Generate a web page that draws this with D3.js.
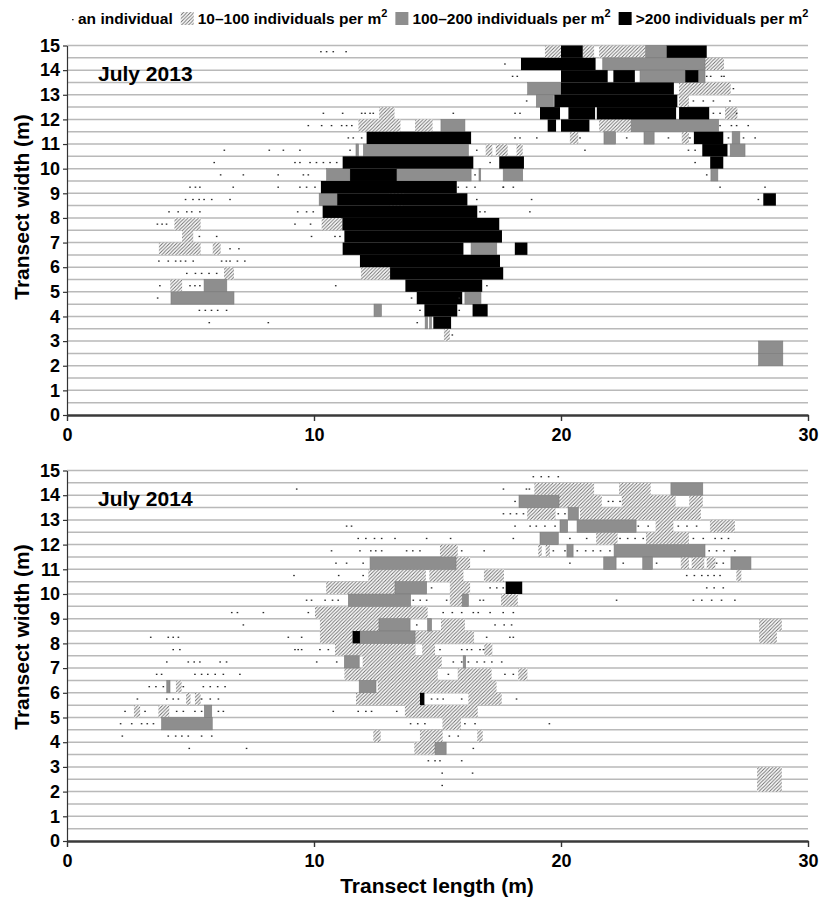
<!DOCTYPE html>
<html>
<head>
<meta charset="utf-8">
<script src="https://cdn.jsdelivr.net/npm/d3@7"></script>
<style>
body { margin: 0; background: #fff; }
text { font-family: "Liberation Sans", Arial, sans-serif; font-weight: bold; }
</style>
</head>
<body>
<svg id="chart" width="819" height="905"></svg>
<script>
// cells are [row bottom (m), x start (m), x end (m)], each row is 0.5 m tall
var hatched2013 = [
    [14.5, 19.35, 20.0], [14.5, 20.88, 21.34], [14.5, 21.54, 23.43],
    [14, 25.83, 26.6], [13, 24.78, 26.87], [12.5, 24.78, 25.18],
    [12, 12.64, 13.26], [12, 26.64, 27.14],
    [11.5, 11.8, 13.5], [11.5, 14.09, 14.8], [11.5, 21.54, 22.84],
    [11, 20.36, 20.7], [11, 24.89, 25.18],
    [10.5, 16.95, 17.22], [10.5, 17.36, 17.84], [10.5, 18.2, 18.45],
    [8.5, 13.05, 13.64],
    [7.5, 4.35, 5.41], [7.5, 10.31, 11.15], [7, 4.66, 5.11],
    [6.5, 3.72, 5.41], [6.5, 5.9, 6.22],
    [5.5, 6.36, 6.76], [5.5, 11.9, 13.08], [5, 4.18, 4.66],
    [3, 15.26, 15.5]
];
var gray2013 = [
    [14.5, 23.43, 24.28], [14, 21.69, 25.83],
    [13.5, 23.2, 25.03], [13.5, 25.56, 25.83],
    [13, 18.65, 20.0], [12.5, 19.0, 19.69],
    [11.5, 15.14, 16.11], [11.5, 22.84, 26.38],
    [11, 21.74, 22.21], [11, 23.36, 23.77], [11, 26.93, 27.24],
    [10.5, 11.7, 11.8], [10.5, 12.0, 16.25], [10.5, 26.85, 27.45],
    [9.5, 10.51, 11.46], [9.5, 13.35, 16.36], [9.5, 16.68, 16.75], [9.5, 17.66, 18.45], [9.5, 26.07, 26.35],
    [8.5, 10.21, 10.94], [6.5, 16.36, 17.4],
    [5, 5.55, 6.47], [4.5, 4.21, 6.76], [4.5, 16.11, 16.76],
    [4, 12.43, 12.73], [3.5, 14.5, 14.6], [3.5, 14.68, 14.76],
    [2.5, 28.0, 28.98], [2, 28.0, 28.98]
];
var black2013 = [
    [14.5, 20.0, 20.88], [14.5, 24.28, 25.9], [14, 18.38, 21.4],
    [13.5, 20.0, 21.89], [13.5, 22.12, 22.99], [13.5, 25.03, 25.56],
    [13, 20.0, 24.57], [12.5, 19.73, 24.71],
    [12, 19.15, 19.96], [12, 20.3, 21.38], [12, 21.45, 24.66], [12, 24.78, 26.0],
    [11.5, 19.46, 19.8], [11.5, 20.0, 21.15],
    [11, 12.13, 16.36], [11, 25.38, 26.57], [10.5, 25.72, 26.74],
    [10, 11.16, 16.45], [10, 17.5, 18.5], [10, 26.04, 26.57],
    [9.5, 11.46, 13.35], [9, 10.28, 15.78],
    [8.5, 10.94, 16.21], [8.5, 28.19, 28.7],
    [8, 10.35, 16.61], [7.5, 11.15, 17.5], [7, 11.23, 17.61],
    [6.5, 11.16, 16.05], [6.5, 18.13, 18.64],
    [6, 11.86, 17.53], [5.5, 13.08, 17.66], [5, 13.7, 16.81],
    [4.5, 14.16, 16.0], [4, 14.47, 15.8], [4, 16.42, 17.03],
    [3.5, 14.83, 15.55]
];
// single individuals: [x (m), row bottom (m)]
var dots2013 = [
    [10.28, 14.5], [10.51, 14.5], [10.78, 14.5], [11.3, 14.5],
    [17.73, 14],
    [18.04, 13.5], [18.23, 13.5], [25.9, 13.5], [26.06, 13.5], [26.5, 13.5], [26.6, 13.5],
    [26.98, 13],
    [18.61, 12.5], [25.36, 12.5], [25.76, 12.5], [26.17, 12.5], [26.84, 12.5],
    [10.38, 12], [11.16, 12], [11.93, 12], [12.07, 12], [12.27, 12], [12.4, 12], [15.64, 12],
    [18.14, 12], [18.34, 12], [26.17, 12], [26.44, 12], [27.11, 12],
    [9.77, 11.5], [10.31, 11.5], [10.71, 11.5], [11.12, 11.5], [11.32, 11.5], [11.53, 11.5],
    [26.44, 11.5], [26.9, 11.5], [27.11, 11.5], [27.58, 11.5],
    [11.39, 11], [11.59, 11], [11.93, 11], [18.14, 11], [18.34, 11], [19.02, 11],
    [20.77, 11], [22.66, 11], [24.35, 11], [25.22, 11], [26.78, 11], [27.39, 11], [27.86, 11],
    [6.37, 10.5], [8.19, 10.5], [8.76, 10.5], [9.43, 10.5], [11.46, 10.5], [16.59, 10.5],
    [20.97, 10.5], [25.16, 10.5], [25.43, 10.5],
    [5.96, 10], [9.23, 10], [9.43, 10], [9.84, 10], [10.1, 10], [10.38, 10], [10.65, 10],
    [10.92, 10], [17.13, 10], [25.43, 10],
    [6.22, 9.5], [7.14, 9.5], [8.55, 9.5], [9.57, 9.5], [9.77, 9.5], [16.52, 9.5], [25.9, 9.5],
    [4.98, 9], [5.2, 9], [5.38, 9], [6.73, 9], [8.55, 9], [9.43, 9], [9.7, 9], [10.04, 9],
    [15.84, 9], [16.18, 9], [16.52, 9], [17.66, 9], [17.67, 9], [18.07, 9], [26.44, 9], [28.26, 9],
    [4.8, 8.5], [5.1, 8.5], [5.35, 8.5], [5.55, 8.5], [5.86, 8.5], [6.6, 8.5],
    [16.59, 8.5], [18.81, 8.5], [27.99, 8.5],
    [4.13, 8], [4.5, 8], [4.85, 8], [5.05, 8], [5.38, 8], [9.34, 8], [9.7, 8], [9.97, 8],
    [16.72, 8], [16.92, 8], [18.74, 8],
    [3.66, 7.5], [3.85, 7.5], [4.03, 7.5], [9.23, 7.5], [9.86, 7.5],
    [5.36, 7], [6.06, 7], [9.9, 7], [10.85, 7], [11.05, 7],
    [6.6, 6.5], [6.96, 6.5],
    [3.72, 6], [4.1, 6], [4.4, 6], [4.6, 6], [4.8, 6], [5.11, 6], [6.26, 6], [6.45, 6],
    [6.6, 6], [6.9, 6], [7.2, 6],
    [4.85, 5.5], [5.2, 5.5], [5.45, 5.5], [5.75, 5.5], [6.06, 5.5],
    [3.76, 5], [4.98, 5], [5.18, 5], [5.38, 5], [10.88, 5], [17.0, 5],
    [3.67, 4.5], [13.95, 4.5], [15.88, 4.5],
    [5.36, 4], [5.6, 4], [5.85, 4], [6.1, 4], [6.46, 4], [14.29, 4], [15.88, 4],
    [5.76, 3.5], [8.15, 3.5], [14.18, 3.5],
    [15.6, 3]
];

var hatched2014 = [
    [14, 18.92, 21.34], [14, 22.35, 23.63],
    [13.5, 19.92, 21.65], [13.5, 22.46, 24.64], [13.5, 25.19, 25.74],
    [13, 18.63, 19.78], [13, 20.77, 25.66],
    [12.5, 23.83, 24.55], [12.5, 26.03, 27.04],
    [12, 21.42, 22.29], [12, 23.44, 25.18],
    [11.5, 15.1, 15.82], [11.5, 19.08, 19.22], [11.5, 19.38, 19.55],
    [11, 15.75, 16.32], [11, 24.85, 25.18], [11, 25.29, 25.8], [11, 25.9, 26.25],
    [10.5, 12.2, 14.53], [10.5, 14.67, 16.05], [10.5, 16.88, 17.69], [10.5, 27.1, 27.3],
    [10, 10.49, 13.28], [10, 15.5, 16.32],
    [9.5, 15.5, 16.0], [9.5, 17.57, 18.25],
    [9, 10.04, 14.6],
    [8.5, 10.24, 12.63], [8.5, 15.14, 16.11], [8.5, 28.02, 28.94],
    [8, 10.24, 11.56], [8, 14.09, 16.48], [8, 28.02, 28.74],
    [7.5, 10.85, 14.11], [7.5, 14.38, 14.9], [7.5, 16.89, 17.22],
    [7, 11.97, 15.17],
    [6.5, 11.23, 15.01], [6.5, 15.82, 17.19], [6.5, 18.27, 18.64],
    [6, 4.41, 4.64], [6, 12.58, 17.39],
    [5.5, 4.82, 5.0], [5.5, 5.18, 5.41], [5.5, 11.7, 14.29], [5.5, 16.25, 17.6],
    [5, 2.71, 2.96], [5, 3.7, 4.14], [5, 13.68, 16.63],
    [4.5, 15.2, 15.95],
    [4, 12.4, 12.7], [4, 14.29, 15.21], [4, 16.61, 16.83],
    [3.5, 14.06, 14.9],
    [2.5, 27.94, 28.94], [2, 27.94, 28.94]
];
var gray2014 = [
    [14, 24.45, 25.74], [13.5, 18.3, 19.92], [13, 20.29, 20.7],
    [12.5, 19.96, 20.27], [12.5, 20.65, 23.04], [12, 19.15, 19.89],
    [11.5, 20.24, 20.49], [11.5, 22.15, 25.83],
    [11, 12.27, 15.75], [11, 21.73, 22.23], [11, 23.31, 23.7], [11, 26.88, 27.69],
    [10, 13.28, 14.56], [9.5, 11.39, 13.91], [9.5, 16.0, 16.25],
    [8.5, 12.63, 13.89], [8.5, 14.6, 14.76], [8, 11.86, 14.09],
    [7, 11.23, 11.83], [7, 16.04, 16.14],
    [6, 4.04, 4.17], [6, 11.83, 12.51],
    [5, 5.56, 5.86], [4.5, 3.83, 5.88], [3.5, 14.9, 15.35]
];
var black2014 = [
    [10, 17.76, 18.43], [8, 11.56, 11.86], [5.5, 14.29, 14.47]
];
var dots2014 = [
    [18.88, 14.5], [19.2, 14.5], [19.5, 14.5], [19.89, 14.5],
    [9.3, 14], [17.67, 14], [18.6, 14], [18.72, 14],
    [18.14, 13.5], [21.92, 13.5], [22.1, 13.5], [22.39, 13.5],
    [17.67, 13], [17.95, 13], [18.2, 13], [18.48, 13], [19.89, 13], [20.16, 13],
    [11.32, 12.5], [11.52, 12.5], [18.14, 12.5], [18.75, 12.5], [19.0, 12.5], [19.35, 12.5],
    [19.76, 12.5], [23.13, 12.5], [23.53, 12.5], [24.75, 12.5], [25.1, 12.5], [25.49, 12.5],
    [11.79, 12], [12.1, 12], [12.45, 12], [12.74, 12], [13.28, 12], [14.56, 12], [15.53, 12],
    [18.07, 12], [20.36, 12], [21.04, 12], [22.39, 12], [22.7, 12], [23.0, 12], [23.33, 12],
    [25.36, 12], [25.76, 12], [26.24, 12], [26.5, 12], [26.78, 12],
    [10.71, 11.5], [11.86, 11.5], [12.3, 11.5], [12.5, 11.5], [12.74, 11.5], [13.75, 11.5],
    [14.0, 11.5], [14.29, 11.5], [15.98, 11.5], [16.89, 11.5], [19.69, 11.5], [20.16, 11.5],
    [20.66, 11.5], [21.0, 11.5], [21.3, 11.5], [21.6, 11.5], [21.98, 11.5],
    [26.0, 11.5], [26.3, 11.5], [26.6, 11.5], [27.04, 11.5],
    [10.89, 11], [11.32, 11], [11.99, 11], [20.36, 11], [22.52, 11], [23.87, 11],
    [26.3, 11], [26.57, 11],
    [9.19, 10.5], [11.0, 10.5], [11.99, 10.5], [25.09, 10.5], [25.4, 10.5], [25.7, 10.5],
    [25.95, 10.5], [26.2, 10.5], [26.44, 10.5],
    [14.76, 10], [17.13, 10], [17.4, 10], [17.66, 10], [25.9, 10], [26.2, 10], [26.57, 10],
    [9.7, 9.5], [9.9, 9.5], [10.45, 9.5], [10.75, 9.5], [10.98, 9.5], [14.02, 9.5], [14.3, 9.5],
    [14.56, 9.5], [15.37, 9.5], [16.72, 9.5], [16.86, 9.5], [22.25, 9.5], [25.36, 9.5],
    [25.7, 9.5], [26.1, 9.5], [26.5, 9.5], [27.04, 9.5],
    [6.67, 9], [6.9, 9], [7.95, 9], [9.77, 9], [15.23, 9], [15.6, 9], [15.98, 9], [16.45, 9],
    [16.65, 9], [17.13, 9], [17.66, 9], [18.07, 9],
    [7.14, 8.5], [14.16, 8.5], [17.33, 8.5], [17.7, 8.5], [18.0, 8.5],
    [3.39, 8], [4.1, 8], [4.3, 8], [4.51, 8], [8.96, 8], [9.5, 8], [16.99, 8], [17.93, 8], [18.07, 8],
    [4.3, 7.5], [4.57, 7.5], [9.23, 7.5], [9.36, 7.5], [9.5, 7.5], [10.24, 7.5], [10.58, 7.5],
    [15.1, 7.5], [15.98, 7.5], [16.2, 7.5], [16.38, 7.5], [16.72, 7.5], [16.86, 7.5],
    [4.04, 7], [4.91, 7], [5.15, 7], [5.38, 7], [6.2, 7], [6.46, 7], [10.11, 7], [10.92, 7],
    [15.64, 7], [15.98, 7], [16.25, 7], [16.6, 7], [16.9, 7], [17.2, 7], [17.6, 7],
    [3.63, 6.5], [3.83, 6.5], [5.18, 6.5], [5.45, 6.5], [5.7, 6.5], [6.0, 6.5], [6.33, 6.5],
    [7.0, 6.5], [15.44, 6.5], [17.73, 6.5], [18.07, 6.5],
    [3.33, 6], [3.6, 6], [3.9, 6], [4.71, 6], [5.52, 6], [5.8, 6], [6.1, 6], [6.4, 6],
    [2.85, 5.5], [4.04, 5.5], [4.3, 5.5], [4.51, 5.5], [5.45, 5.5], [5.8, 5.5], [6.13, 5.5],
    [14.76, 5.5], [15.0, 5.5], [15.23, 5.5], [15.98, 5.5], [18.2, 5.5],
    [2.35, 5], [3.16, 5], [4.44, 5], [4.71, 5], [5.18, 5], [5.45, 5], [6.13, 5], [6.33, 5],
    [10.78, 5], [11.79, 5], [12.1, 5], [12.33, 5], [13.35, 5],
    [2.17, 4.5], [2.62, 4.5], [3.02, 4.5], [3.25, 4.5], [3.5, 4.5], [13.91, 4.5], [14.2, 4.5],
    [14.49, 4.5], [16.11, 4.5], [16.52, 4.5], [19.53, 4.5],
    [2.24, 4], [4.1, 4], [4.4, 4], [4.65, 4], [4.91, 4], [5.45, 4], [5.86, 4], [15.48, 4], [15.84, 4],
    [4.95, 3.5], [7.27, 3.5], [16.45, 3.5],
    [14.63, 3], [14.9, 3], [15.1, 3], [15.98, 3],
    [15.19, 2.5], [16.42, 2.5],
    [15.19, 2]
];

var xTicks = [0, 10, 20, 30];
var yTicks = d3.range(0, 16);

var svg = d3.select("#chart");

var defs = svg.append("defs");
var pat = defs.append("pattern")
    .attr("id", "hatch")
    .attr("patternUnits", "userSpaceOnUse")
    .attr("width", 3.5)
    .attr("height", 3.5);
pat.append("rect").attr("width", 3.5).attr("height", 3.5).attr("fill", "#fff");
pat.append("path")
    .attr("d", "M-1,1 L1,-1 M0,3.5 L3.5,0 M2.5,4.5 L4.5,2.5")
    .attr("stroke", "#6a6a6a")
    .attr("stroke-width", 0.9);

var x = d3.scaleLinear().domain([0, 30]).range([67, 808]);

var panels = [
    { top: 45.5, bottom: 415, title: "July 2013", titleY: 80.5, labelY: 207,
      hatched: hatched2013, gray: gray2013, black: black2013, dots: dots2013 },
    { top: 470.5, bottom: 841, title: "July 2014", titleY: 506, labelY: 637,
      hatched: hatched2014, gray: gray2014, black: black2014, dots: dots2014 }
];

panels.forEach(function (p) {
    var y = d3.scaleLinear().domain([0, 15]).range([p.bottom, p.top]);
    var g = svg.append("g");

    // half-metre grid
    g.append("g").selectAll("line")
        .data(d3.range(1, 31).map(function (d) { return d / 2; }))
        .enter().append("line")
        .attr("x1", x(0)).attr("x2", x(30))
        .attr("y1", function (d) { return y(d); })
        .attr("y2", function (d) { return y(d); })
        .attr("stroke", "#b9b9b9")
        .attr("stroke-width", 1.5);

    function cells(data, fill, stroke) {
        g.append("g").selectAll("rect")
            .data(data)
            .enter().append("rect")
            .attr("x", function (d) { return x(d[1]); })
            .attr("y", function (d) { return y(d[0] + 0.5); })
            .attr("width", function (d) { return x(d[2]) - x(d[1]); })
            .attr("height", function (d) { return y(d[0]) - y(d[0] + 0.5); })
            .attr("fill", fill)
            .attr("stroke", stroke)
            .attr("stroke-width", stroke == "none" ? 0 : 0.6);
    }
    cells(p.hatched, "url(#hatch)", "none");
    cells(p.gray, "#8e8e8e", "#7c7c7c");
    cells(p.black, "#000", "none");

    g.append("g").selectAll("rect")
        .data(p.dots)
        .enter().append("rect")
        .attr("x", function (d) { return x(d[0]) - 0.8; })
        .attr("y", function (d) { return y(d[1] + 0.25) - 0.6; })
        .attr("width", 1.6)
        .attr("height", 1.3)
        .attr("fill", "#2a2a2a");

    var yAxis = d3.axisLeft(y).tickValues(yTicks).tickSize(4).tickSizeOuter(0).tickPadding(3)
        .tickFormat(d3.format("d"));
    var ya = g.append("g").attr("transform", "translate(" + x(0) + ",0)").call(yAxis);
    ya.select(".domain").attr("stroke", "#333").attr("stroke-width", 1.2);
    ya.selectAll(".tick line").attr("stroke", "#333").attr("stroke-width", 1.2);
    ya.selectAll("text").style("font-size", "18px").attr("fill", "#000");

    var xAxis = d3.axisBottom(x).tickValues(xTicks).tickSize(6).tickSizeOuter(0).tickPadding(7);
    var xa = g.append("g").attr("transform", "translate(0," + p.bottom + ")").call(xAxis);
    xa.select(".domain").attr("stroke", "#3a3a3a").attr("stroke-width", 2.6);
    xa.selectAll(".tick line").attr("stroke", "#333").attr("stroke-width", 1.4);
    xa.selectAll("text").style("font-size", "18px").attr("fill", "#000");

    g.append("text")
        .attr("x", 98).attr("y", p.titleY)
        .style("font-size", "21px")
        .text(p.title);

    g.append("text")
        .attr("transform", "translate(29," + p.labelY + ") rotate(-90)")
        .attr("text-anchor", "middle")
        .style("font-size", "21px")
        .text("Transect width (m)");
});

svg.append("text")
    .attr("x", 437).attr("y", 893)
    .attr("text-anchor", "middle")
    .style("font-size", "21px")
    .text("Transect length (m)");

// legend
var legend = svg.append("g").attr("class", "legend");
var lx = 72, ly = 24;
legend.append("rect").attr("x", lx).attr("y", ly - 5).attr("width", 1.6).attr("height", 1.3).attr("fill", "#2a2a2a");
lx += 6;
var items = [
    { fill: null, label: "an individual", sup: false },
    { fill: "url(#hatch)", label: "10\u2013100 individuals per m", sup: true },
    { fill: "#8e8e8e", label: "100\u2013200 individuals per m", sup: true },
    { fill: "#000", label: ">200 individuals per m", sup: true }
];
items.forEach(function (it) {
    if (it.fill) {
        legend.append("rect").attr("x", lx).attr("y", ly - 12).attr("width", 13).attr("height", 13)
            .attr("fill", it.fill);
        lx += 17;
    }
    var t = legend.append("text").attr("x", lx).attr("y", ly).style("font-size", "15.5px");
    t.append("tspan").text(it.label);
    if (it.sup) {
        t.append("tspan").attr("dy", -7).style("font-size", "11px").text("2");
    }
    lx += t.node().getComputedTextLength() + 8;
});
</script>
</body>
</html>
